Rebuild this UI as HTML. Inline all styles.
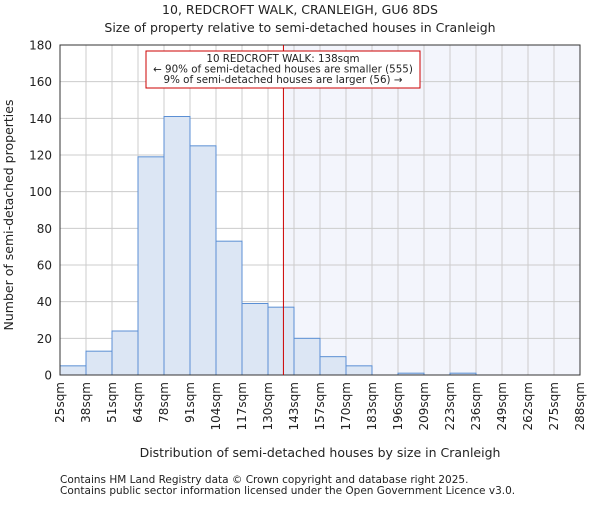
<!DOCTYPE html>
<html><head><meta charset="utf-8"><style>
body{margin:0;background:#fff;}
svg text{font-family:"DejaVu Sans","Liberation Sans",sans-serif;fill:#222;}
</style></head><body>
<svg id="chart" width="600" height="500" xmlns="http://www.w3.org/2000/svg">
<text x="300" y="14" font-size="12.5" text-anchor="middle">10, REDCROFT WALK, CRANLEIGH, GU6 8DS</text>
<text x="300" y="32" font-size="12.5" text-anchor="middle">Size of property relative to semi-detached houses in Cranleigh</text>
<g id="plot"></g>
<text x="320" y="457" font-size="12.5" text-anchor="middle">Distribution of semi-detached houses by size in Cranleigh</text>
<text transform="translate(13,215) rotate(-90)" font-size="12.5" text-anchor="middle">Number of semi-detached properties</text>
<text x="60" y="483" font-size="10.5">Contains HM Land Registry data © Crown copyright and database right 2025.</text>
<text x="60" y="494" font-size="10.5">Contains public sector information licensed under the Open Government Licence v3.0.</text>
</svg>
<script>
const binLabels=["25sqm","38sqm","51sqm","64sqm","78sqm","91sqm","104sqm","117sqm","130sqm","143sqm","157sqm","170sqm","183sqm","196sqm","209sqm","223sqm","236sqm","249sqm","262sqm","275sqm","288sqm"];
const counts=[5,13,24,119,141,125,73,39,37,20,10,5,0,1,0,1,0,0,0,0];
const yTicks=[0,20,40,60,80,100,120,140,160,180];
const binStart=25, binWidth=13.15, propertySize=138;
const L=60,R=580,T=45,B=375,yMax=180;
const NS="http://www.w3.org/2000/svg";
const g=document.getElementById('plot');
const n=counts.length, bw=(R-L)/n;
const xs=v=>L+(v-binStart)/binWidth*bw;
const xi=i=>L+i*bw;
const ys=v=>B-v/yMax*(B-T);
function mk(t,a){const e=document.createElementNS(NS,t);for(const k in a)e.setAttribute(k,a[k]);g.appendChild(e);return e;}
const px=xs(propertySize);
let sh=mk('rect',{x:px,y:T,width:R-px,height:B-T,fill:'#f3f5fc'});


for(let i=0;i<=n;i++){let l=mk('line',{x1:xi(i),x2:xi(i),y1:T,y2:B,stroke:'#cccccc','stroke-width':1});

}
yTicks.forEach(v=>{let l=mk('line',{x1:L,x2:R,y1:ys(v),y2:ys(v),stroke:'#cccccc','stroke-width':1});


let t=mk('text',{x:L-8,y:ys(v)+4.5,'font-size':12,'text-anchor':'end'});t.textContent=v;

});
counts.forEach((c,i)=>{if(c<=0)return;let r=mk('rect',{x:xi(i),y:ys(c),width:bw,height:B-ys(c),fill:'#dce6f4',stroke:'#5b8fd4','stroke-width':1});

});
binLabels.forEach((s,i)=>{let t=mk('text',{transform:`translate(${xi(i)+4},${B+7}) rotate(-90)`,'font-size':12,'text-anchor':'end'});t.textContent=s;

});
let ax=mk('rect',{x:L,y:T,width:R-L,height:B-T,fill:'none',stroke:'#333','stroke-width':1});


let pl=mk('line',{x1:px,x2:px,y1:T,y2:B,stroke:'#cc0000','stroke-width':1});


let box=mk('rect',{x:146,y:51,width:274,height:37,fill:'#fff',stroke:'#cc0000','stroke-width':1});


["10 REDCROFT WALK: 138sqm","← 90% of semi-detached houses are smaller (555)","9% of semi-detached houses are larger (56) →"].forEach((s,i)=>{let t=mk('text',{x:283,y:62+i*10.5,'font-size':10.3,'text-anchor':'middle'});t.textContent=s;

});
</script>
</body></html>
